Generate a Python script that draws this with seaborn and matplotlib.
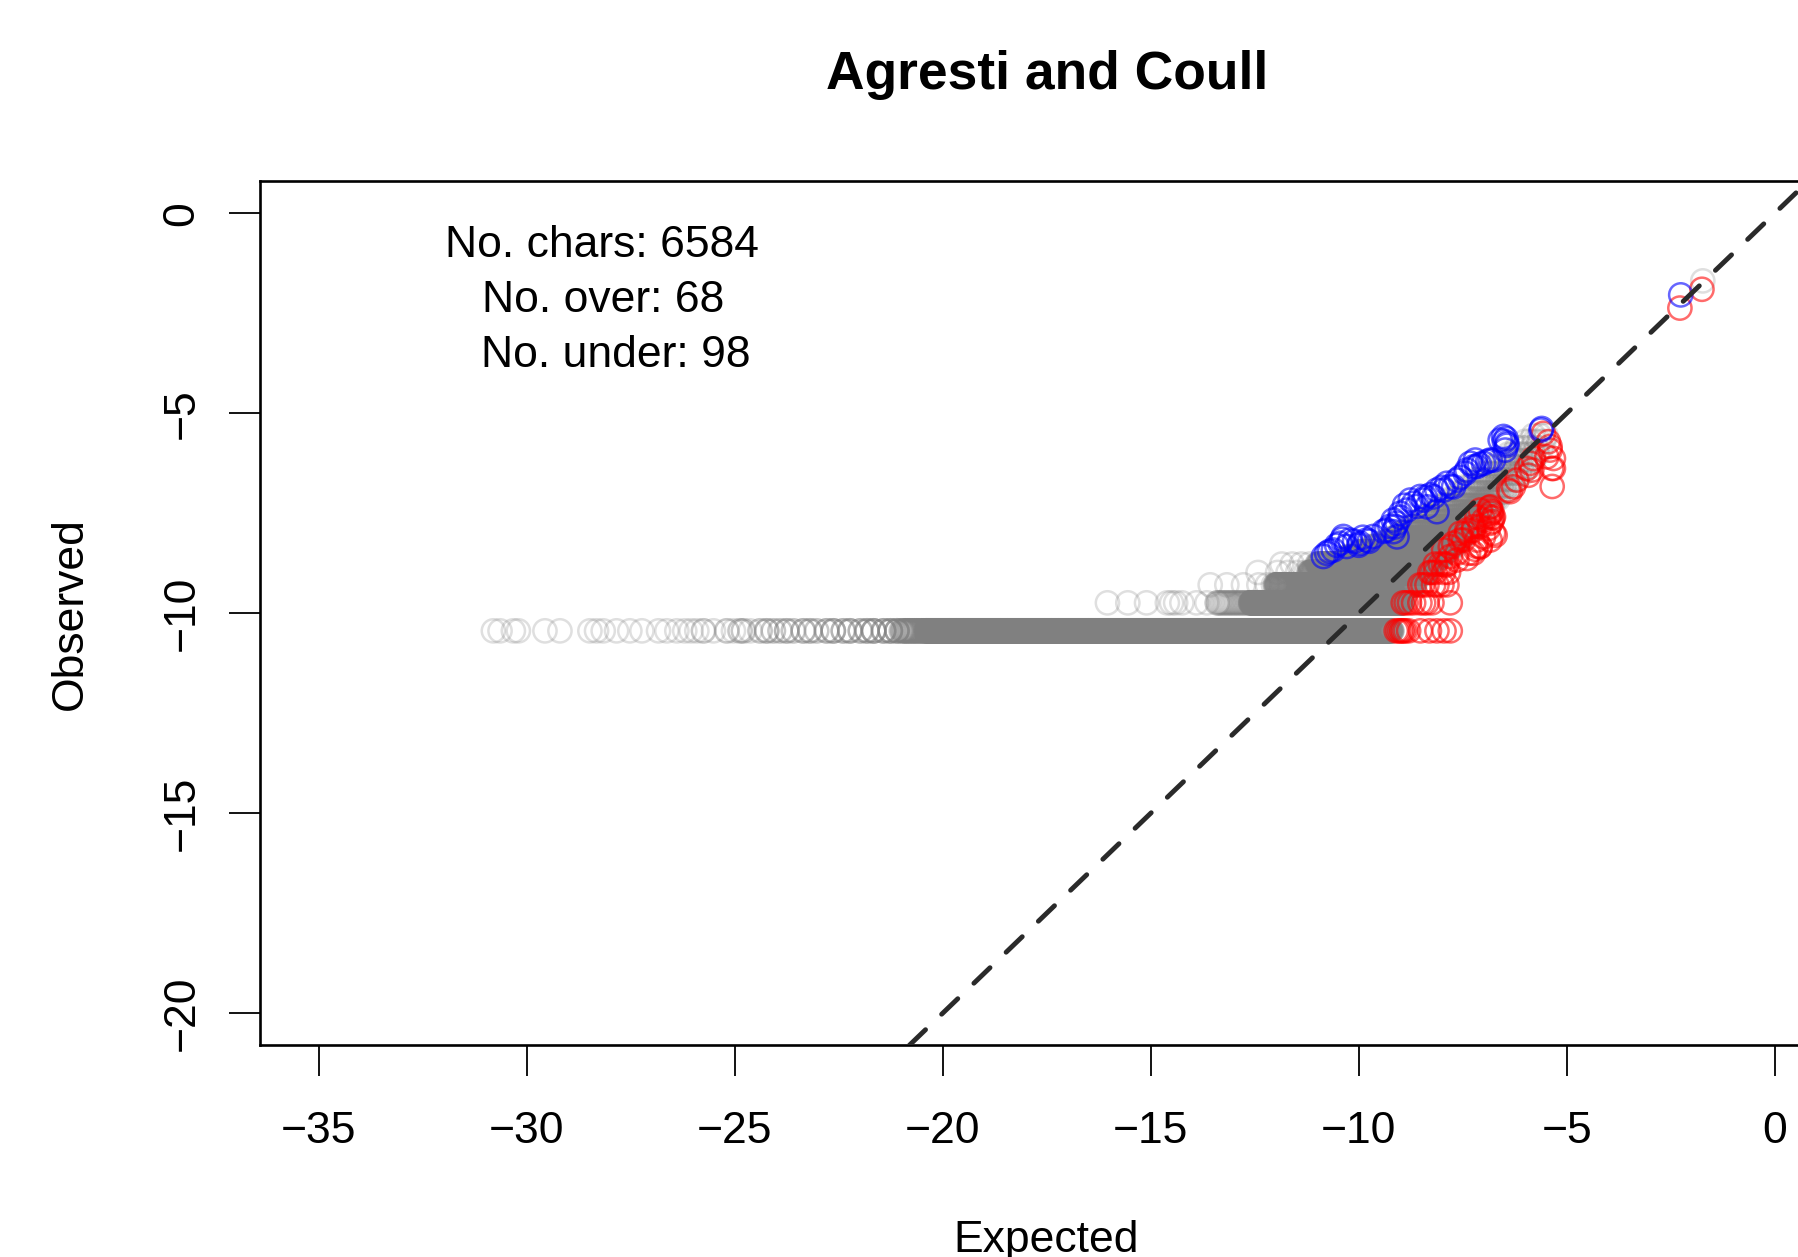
import numpy as np
import pandas as pd
import matplotlib
matplotlib.use("Agg")
import matplotlib.pyplot as plt
import seaborn as sns

# ---------------- data ----------------
# Observed levels (rows of the count-1, 2, 3 ... characters)
row_y = [-10.44, -9.74, -9.29, -8.98, -8.77]

# isolated grey circles on the lowest rows (Expected values)
gray_row_sparse_x = [
    [-30.80, -30.64, -30.32, -30.20, -29.56, -29.20, -28.48, -28.32, -28.16,
     -27.84, -27.52, -27.23, -26.83, -26.63, -26.39, -26.20, -26.05],
    [-16.04, -15.55, -15.10, -14.60, -14.50, -14.40, -14.25, -13.90, -13.65, -13.40],
    [-13.57, -13.17, -12.77, -12.40, -12.20, -12.05],
    [-12.42, -11.95, -11.70, -11.47, -11.27],
    [-11.85, -11.60, -11.38, -11.18],
]

# lowest row between -26 and -21: circle positions and how many sit on each
gray_stack_x = [-25.91, -25.75, -25.51, -25.19, -25.03, -24.87, -24.79, -24.63,
                -24.39, -24.23, -24.07, -23.91, -23.75, -23.59, -23.35, -23.19,
                -23.03, -22.79, -22.63, -22.39, -22.23, -21.98, -21.82, -21.66,
                -21.42, -21.26, -21.10]
gray_stack_n = [1, 2, 1, 2, 1, 2, 2, 1,
                2, 3, 2, 2, 3, 2, 3, 3,
                2, 3, 4, 3, 4, 3, 4, 5,
                4, 5, 5]
gray_stack_y = -10.44

# densely packed grey stretches: (observed, expected from, expected to, count)
gray_dense_y = [-10.44, -10.44, -9.74, -9.74, -9.29, -8.98, -8.77,
                -8.60, -8.46, -8.33, -8.22, -8.12, -7.98, -7.84, -7.70, -7.58,
                -7.46, -7.30, -7.14, -6.98, -6.82, -6.66, -6.50, -6.34, -6.18,
                -6.02, -5.86, -5.70, -5.55]
gray_dense_from = [-21.0, -20.4, -13.4, -12.6, -12.0, -11.2, -11.0,
                   -10.3, -10.0, -9.7, -9.4, -9.2, -9.0, -8.8, -8.6, -8.4,
                   -8.2, -8.0, -7.8, -7.6, -7.4, -7.2, -7.0, -6.8, -6.6,
                   -6.4, -6.2, -6.0, -5.8]
gray_dense_to = [-20.4, -9.2, -12.6, -8.95, -8.65, -8.35, -8.2,
                 -8.0, -7.85, -7.7, -7.6, -7.5, -7.35, -7.2, -7.1, -7.0,
                 -6.95, -6.8, -6.65, -6.5, -6.35, -6.2, -6.05, -5.9, -5.8,
                 -5.7, -5.6, -5.55, -5.5]
gray_dense_n = [40, 1600, 25, 650, 480, 330, 230,
                160, 120, 90, 70, 55, 50, 40, 35, 30,
                25, 25, 20, 18, 15, 14, 12, 10, 9,
                8, 6, 5, 3]

gray_extra_x = [-1.73]
gray_extra_y = [-1.69]

# "under" characters (red)
red_x = [-9.10, -9.05, -9.00, -8.96, -8.93, -8.88, -8.80, -8.52, -8.30, -8.12, -7.95, -7.80,
         -8.93, -8.86, -8.78, -8.68, -8.53, -8.44, -8.36, -8.24, -7.80,
         -8.53, -8.46, -8.36, -8.20, -8.12, -8.00, -7.88,
         -8.29, -8.24, -8.16, -7.96, -7.84,
         -8.16, -8.04, -7.96, -7.88,
         -7.64, -7.40, -7.24, -7.08, -6.84,
         -7.80, -7.64, -7.36, -7.16, -7.56, -7.40, -7.24, -7.08, -6.76, -7.00, -6.80, -6.88, -6.84,
         -6.72, -7.24, -7.40, -7.56, -7.48, -7.72, -7.80, -7.96, -7.16, -7.08, -7.00, -7.08, -7.16,
         -6.84, -6.80, -6.76, -6.84, -6.88,
         -6.28, -6.36, -6.20, -6.40,
         -5.80, -5.88, -5.96, -5.92, -5.84,
         -5.44, -5.40, -5.48, -5.32, -5.36, -5.32, -5.35, -5.56, -5.40,
         -6.82, -6.78, -6.86, -7.20, -7.90,
         -2.28, -1.75]
red_y = [-10.44] * 12 + [-9.74] * 9 + [-9.29] * 7 + [-8.98] * 5 + [-8.77] * 4 + \
        [-8.67, -8.63, -8.50, -8.33, -8.17,
         -8.58, -8.50, -8.50, -8.33, -8.17, -8.00, -7.92, -7.83, -8.00, -7.67, -7.71, -7.58, -7.42,
         -8.05, -7.84, -7.92, -8.00, -8.17, -8.25, -8.34, -8.42, -8.17, -8.34, -8.09, -7.42, -7.59,
         -7.34, -7.46, -7.59, -7.75, -7.88,
         -6.84, -6.96, -6.67, -6.92,
         -6.13, -6.25, -6.38, -6.55, -6.42,
         -5.71, -5.92, -6.09, -6.13, -6.38, -6.38, -6.83, -5.50, -5.83,
         -7.50, -7.62, -7.36, -8.40, -8.80,
         -2.37, -1.90]

# "over" characters (blue)
blue_x = [-5.60, -5.62,
          -6.52, -6.44, -6.48, -6.60, -6.46, -6.44,
          -6.84, -6.76, -7.00, -7.16, -7.32,
          -7.20, -7.24, -7.40, -7.44,
          -7.64, -7.80, -7.88, -7.72, -7.96,
          -8.12, -8.28, -8.44, -8.52, -8.60, -8.76, -8.84, -9.00, -9.08, -9.17,
          -8.20, -8.36, -8.12,
          -9.25, -9.33, -9.12, -9.17, -9.08,
          -9.65, -9.81, -9.97, -10.21, -10.37, -10.45, -10.29, -10.61, -10.77, -10.85, -10.53, -9.75,
          -8.00, -8.68, -8.90, -9.00, -9.90, -10.10, -10.70, -10.40, -7.56, -7.10, -6.90, -6.50,
          -8.40, -9.40, -10.00,
          -2.26]
blue_y = [-5.38, -5.42,
          -5.58, -5.75, -5.92, -5.67, -5.63, -5.80,
          -6.17, -6.17, -6.25, -6.33, -6.25,
          -6.17, -6.34, -6.42, -6.50,
          -6.67, -6.83, -6.75, -6.84, -6.92,
          -6.92, -7.04, -7.17, -7.08, -7.33, -7.17, -7.42, -7.50, -7.75, -7.67,
          -7.09, -7.34, -7.46,
          -7.83, -7.92, -7.84, -7.96, -8.09,
          -8.08, -8.17, -8.25, -8.17, -8.08, -8.25, -8.33, -8.42, -8.50, -8.58, -8.30, -8.20,
          -6.85, -7.25, -7.30, -7.60, -8.10, -8.20, -8.45, -8.15, -6.60, -6.28, -6.20, -5.70,
          -7.10, -7.95, -8.30,
          -2.04]

x_ticks = [-35, -30, -25, -20, -15, -10, -5, 0]
y_ticks = [-20, -15, -10, -5, 0]
x_lim = (-36.4, 1.4)
y_lim = (-20.8, 0.8)

title = "Agresti and Coull"
x_label = "Expected"
y_label = "Observed"
info_lines = ["No. chars: 6584", "No. over: 68", "No. under: 98"]

# ---------------- assemble grey table ----------------
gx, gy = [], []
for yy, xs in zip(row_y, gray_row_sparse_x):
    gx += xs
    gy += [yy] * len(xs)
for xx, k in zip(gray_stack_x, gray_stack_n):
    gx += [xx] * k
    gy += [gray_stack_y] * k
for yy, a, b, n in zip(gray_dense_y, gray_dense_from, gray_dense_to, gray_dense_n):
    pts = np.linspace(a, b, n)
    gx += list(pts)
    gy += [yy] * n
gx += gray_extra_x
gy += gray_extra_y
gray_df = pd.DataFrame({"Expected": gx, "Observed": gy})
red_df = pd.DataFrame({"Expected": red_x, "Observed": red_y})
blue_df = pd.DataFrame({"Expected": blue_x, "Observed": blue_y})

# ---------------- style ----------------
sns.set_style("white")
plt.rcParams["font.family"] = ["Liberation Sans", "DejaVu Sans"]
plt.rcParams["axes.unicode_minus"] = True
plt.rcParams["text.color"] = "black"
plt.rcParams["axes.labelcolor"] = "black"
plt.rcParams["xtick.color"] = "black"
plt.rcParams["ytick.color"] = "black"

W, H = 1799, 1257
fig = plt.figure(figsize=(W / 100, H / 100), dpi=100)
fig.patch.set_facecolor("white")
ax_left, ax_top, ax_right, ax_bottom = 260.4, 181.3, 1833.0, 1045.2
ax = fig.add_axes([ax_left / W, 1 - ax_bottom / H,
                   (ax_right - ax_left) / W, (ax_bottom - ax_top) / H])

MS = 280
LW = 1.8


def draw(df, color, alpha, z):
    sns.scatterplot(data=df, x="Expected", y="Observed", ax=ax, s=MS,
                    marker="o", legend=False, zorder=z)
    coll = ax.collections[-1]
    rgba = matplotlib.colors.to_rgba(color, alpha)
    coll.set_facecolor("none")
    coll.set_edgecolor(rgba)
    coll.set_linewidth(LW)
    coll.set_alpha(None)


draw(gray_df, "#808080", 0.25, 2)
draw(red_df, "#FF0000", 0.58, 3)
draw(blue_df, "#0000FF", 0.6, 3)

# identity reference line (dashed)
lo, hi = y_lim[0], x_lim[1]
ax.plot([lo, hi], [lo, hi], color="#2a2a2a", lw=3.5, dashes=(4.6, 4.6),
        dash_capstyle="round", zorder=5)

ax.set_xlim(*x_lim)
ax.set_ylim(*y_lim)
ax.set_xticks(x_ticks)
ax.set_yticks(y_ticks)
ax.set_xticklabels([f"{t}".replace("-", "\u2212") for t in x_ticks])
ax.set_yticklabels([f"{t}".replace("-", "\u2212") for t in y_ticks],
                   rotation=90, va="center")
ax.tick_params(axis="both", direction="out", length=22.3, width=1.3,
               colors="black", labelsize=32, left=True, bottom=True)
ax.tick_params(axis="x", pad=25.3)
ax.tick_params(axis="y", pad=19.4)
for sp in ax.spines.values():
    sp.set_color("black")
    sp.set_linewidth(1.9)
ax.grid(False)

ax.set_xlabel(x_label, fontsize=32, color="black")
ax.xaxis.set_label_coords(1046.5 / W, 1 - 1220 / H, transform=fig.transFigure)
ax.set_ylabel(y_label, fontsize=32, color="black")
ax.yaxis.set_label_coords(91 / W, 1 - 613.25 / H, transform=fig.transFigure)

ax.set_title(title, fontsize=38.4, fontweight="bold", y=1.097, color="black")

info_x = [-28.18, -28.16, -27.86]
info_y = [-1.09, -2.47, -3.84]
for tx, ty, s in zip(info_x, info_y, info_lines):
    ax.text(tx, ty, s, ha="center", va="baseline", fontsize=32, color="black")

fig.savefig("out.png", dpi=100, facecolor="white")
